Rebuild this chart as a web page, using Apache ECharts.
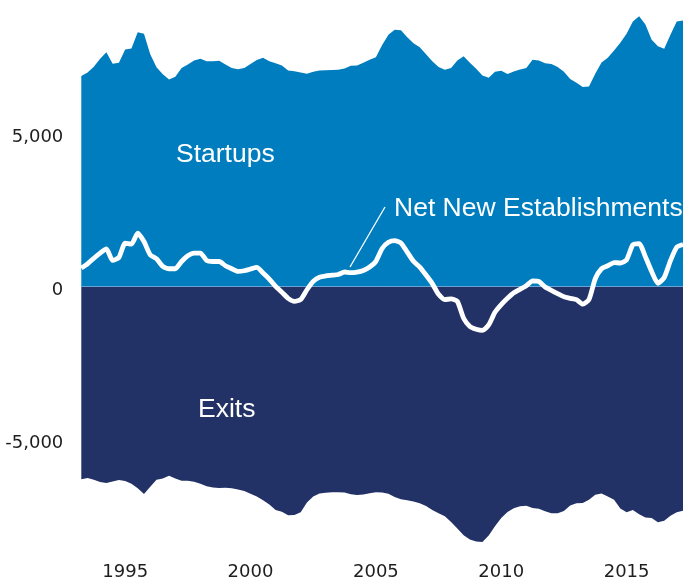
<!DOCTYPE html>
<html>
<head>
<meta charset="utf-8">
<script src="https://cdn.jsdelivr.net/npm/echarts@6/dist/echarts.min.js"></script>
<style>
html,body{margin:0;padding:0;background:#fff;}
#c{width:683px;height:583px;}
</style>
</head>
<body>
<div id="c"></div>
<script>
// Quarterly series, 1993 Q2 .. 2017 Q2
const firstYear = 1993, firstQuarter = 2, nPoints = 97;
const tickYears = ["1995", "2000", "2005", "2010", "2015"];
const yTickValues = [-5000, 0, 5000];

const startups = [
  6883, 7000, 7190, 7450, 7665, 7290, 7318, 7750, 7785, 8316,
  8264, 7600, 7170, 6940, 6775, 6860, 7143, 7264, 7394, 7450,
  7371, 7371, 7384, 7260, 7150, 7105, 7150, 7280, 7410, 7481,
  7365, 7300, 7231, 7068, 7040, 7000, 6960, 7026, 7068, 7075,
  7078, 7090, 7130, 7222, 7225, 7320, 7417, 7502, 7900, 8230,
  8394, 8380, 8150, 7958, 7828, 7600, 7370, 7176, 7091, 7143,
  7394, 7535, 7320, 7120, 6906, 6830, 7026, 7058, 6948, 7036,
  7101, 7143, 7417, 7394, 7306, 7274, 7176, 7026, 6785, 6668,
  6530, 6540, 6960, 7329, 7482, 7720, 7970, 8264, 8664, 8838,
  8567, 8068, 7860, 7775, 8231, 8664, 8697
];

const exits = [
  -6290, -6254, -6310, -6385, -6415, -6370, -6320, -6350, -6440, -6590,
  -6775, -6540, -6308, -6264, -6178, -6270, -6341, -6341, -6373, -6440,
  -6520, -6565, -6580, -6572, -6585, -6625, -6680, -6770, -6860, -6980,
  -7120, -7300, -7352, -7470, -7460, -7370, -7050, -6860, -6760, -6730,
  -6720, -6720, -6725, -6780, -6805, -6790, -6752, -6720, -6725, -6770,
  -6870, -6950, -6975, -7020, -7080, -7170, -7300, -7400, -7502, -7690,
  -7900, -8120, -8260, -8330, -8340, -8130, -7830, -7560, -7360, -7240,
  -7176, -7156, -7230, -7260, -7340, -7404, -7404, -7330, -7150, -7078,
  -7070, -6960, -6800, -6760, -6860, -6961, -7250, -7372, -7296, -7437,
  -7540, -7557, -7697, -7645, -7482, -7372, -7319
];

const netNew = [
  609, 749, 930, 1098, 1238, 860, 954, 1420, 1391, 1749,
  1476, 1042, 912, 661, 586, 586, 824, 1010, 1098, 1098,
  857, 824, 824, 684, 586, 498, 521, 577, 629, 450,
  251, 10, -180, -380, -478, -420, -100, 173, 310, 350,
  375, 400, 480, 460, 480, 531, 642, 830, 1250, 1450,
  1508, 1430, 1130, 830, 640, 380, 100, -250, -420, -400,
  -480, -1030, -1300, -1390, -1430, -1250, -837, -586, -380, -200,
  -85, 30, 190, 170, -10, -120, -228, -330, -380, -423,
  -570, -420, 260, 586, 684, 790, 775, 880, 1368, 1410,
  980, 498, 110, 300, 850, 1293, 1380
];

const quarters = [];
for (let i = 0; i < nPoints; i++) {
  const q = (firstQuarter - 1 + i);
  quarters.push((firstYear + Math.floor(q / 4)) + "Q" + (q % 4 + 1));
}

const chart = echarts.init(document.getElementById('c'), null, {renderer: 'canvas'});
const tickFont = 'DejaVu Sans';

chart.setOption({
  animation: false,
  backgroundColor: '#ffffff',
  grid: {left: 81.3, right: 0, top: 11.3, bottom: 36.2, containLabel: false},
  xAxis: {
    type: 'category',
    data: quarters,
    boundaryGap: false,
    axisLine: {show: false},
    axisTick: {show: false},
    splitLine: {show: false},
    axisLabel: {
      interval: function (idx, val) {
        return val.slice(4) === 'Q1' && tickYears.indexOf(val.slice(0, 4)) >= 0;
      },
      formatter: function (val) { return val.slice(0, 4); },
      color: '#1e1e1e',
      fontFamily: tickFont,
      fontSize: 18,
      margin: 17
    }
  },
  yAxis: {
    type: 'value',
    min: -8500,
    max: 9000,
    interval: 500,
    axisLine: {show: false},
    axisTick: {show: false},
    splitLine: {show: false},
    axisLabel: {
      formatter: function (v) {
        if (yTickValues.indexOf(v) < 0) return '';
        return '{a|' + v.toLocaleString('en-US') + '}';
      },
      margin: 18,
      rich: {
        a: {
          color: '#1e1e1e',
          fontFamily: tickFont,
          fontSize: 18,
          padding: [7, 0, 0, 0]
        }
      }
    }
  },
  series: [
    {
      name: 'Startups',
      type: 'line',
      data: startups,
      showSymbol: false,
      symbol: 'none',
      lineStyle: {width: 0},
      areaStyle: {color: '#007dbe', opacity: 1},
      z: 1
    },
    {
      name: 'Exits',
      type: 'line',
      data: exits,
      showSymbol: false,
      symbol: 'none',
      lineStyle: {width: 0},
      areaStyle: {color: '#233266', opacity: 1},
      z: 2,
      markLine: {
        silent: true,
        symbol: ['none', 'none'],
        label: {show: false},
        lineStyle: {color: '#6aa3d3', width: 1, type: 'solid'},
        data: [{yAxis: 0}]
      }
    },
    {
      name: 'Net New Establishments',
      type: 'line',
      data: netNew,
      showSymbol: false,
      symbol: 'none',
      smooth: 0.2,
      lineStyle: {color: '#ffffff', width: 4.8},
      z: 5
    }
  ],
  graphic: [
    {type: 'text', left: 176, top: 141, z: 10,
     style: {text: 'Startups', fill: '#ffffff', font: '26.5px "Liberation Sans"'}},
    {type: 'text', left: 394, top: 195, z: 10,
     style: {text: 'Net New Establishments', fill: '#ffffff', font: '26.5px "Liberation Sans"'}},
    {type: 'text', left: 198, top: 396, z: 10,
     style: {text: 'Exits', fill: '#ffffff', font: '26.5px "Liberation Sans"'}},
    {type: 'line', z: 10,
     shape: {x1: 385, y1: 207, x2: 350, y2: 267},
     style: {stroke: '#ffffff', lineWidth: 1.3}}
  ]
});
</script>
</body>
</html>
